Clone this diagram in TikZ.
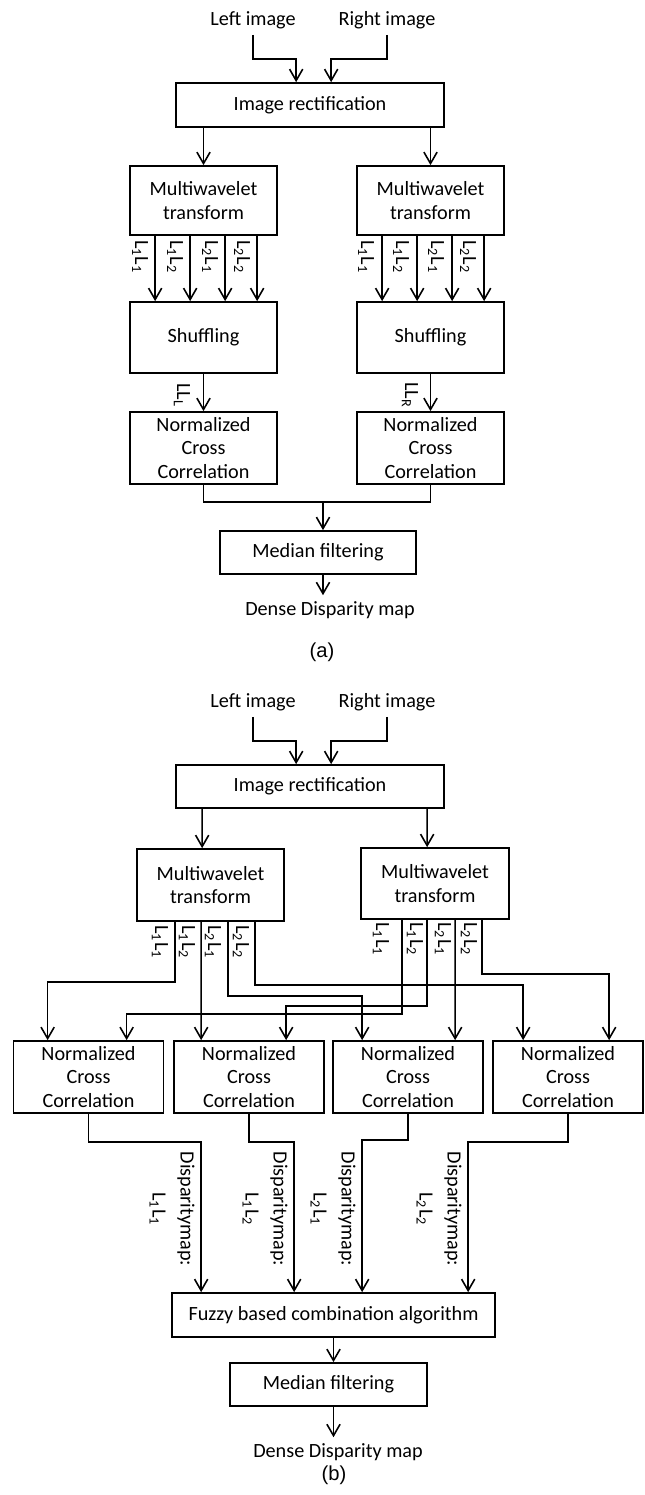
\documentclass[tikz,border=0pt]{standalone}
\usepackage{fontspec}
\setmainfont{Carlito}
\newfontfamily\capfont{Liberation Sans}
\usetikzlibrary{arrows.meta,positioning,calc}

\begin{document}
\begin{tikzpicture}[
    x=0.02cm, y=-0.02cm,
    every node/.style={font=\fontsize{11.5}{13.4}\selectfont},
    box/.style={draw, rectangle, line width=1pt, align=center, inner sep=0pt, minimum width=2.94cm, minimum height=1.42cm},
    arr/.style={-{Straight Barb[length=6.5pt,width=7.5pt]}, line width=0.9pt},
    wire/.style={line width=0.9pt},
    lbl/.style={rotate=-90, inner sep=0pt},
    dlbl/.style={rotate=-90, align=center, inner sep=0pt},
    captxt/.style={font=\capfont\fontsize{11.5}{14}\selectfont}
]
\useasboundingbox (0,0) rectangle (645,1495);

% ---------------- (a) ----------------
% Inputs
\node (leftA) at (253,20) {Left image};
\node (rightA) at (387,20) {Right image};
\node[box, minimum width=5.36cm, minimum height=0.88cm] (rectA) at (310,105) {Image rectification};
\draw[arr] (leftA.south) |- ($(rectA.north west)+(121,-23)$) -- ($(rectA.north west)+(121,0)$);
\draw[arr] (rightA.south) |- ($(rectA.north west)+(156,-23)$) -- ($(rectA.north west)+(156,0)$);

% Multiwavelet transform
\node[box, minimum height=1.38cm] (mwLA) at (203.5,200.5) {Multiwavelet\\transform};
\node[box, minimum height=1.38cm] (mwRA) at (430.5,200.5) {Multiwavelet\\transform};
\draw[arr] (mwLA.north |- rectA.south) -- (mwLA.north);
\draw[arr] (mwRA.north |- rectA.south) -- (mwRA.north);

% Shuffling
\node[box] (shLA) at (203.5,337.5) {Shuffling};
\node[box] (shRA) at (430.5,337.5) {Shuffling};
\foreach \dx/\txt in {26/L\textsubscript{1}L\textsubscript{1}, 61/L\textsubscript{1}L\textsubscript{2}, 96/L\textsubscript{2}L\textsubscript{1}, 128/L\textsubscript{2}L\textsubscript{2}}{
  \draw[arr] ($(mwLA.south west)+(\dx,0)$) -- ($(shLA.north west)+(\dx,0)$);
  \node[lbl] (lblLA\dx) at ($(mwLA.south west)+(\dx-15,21)$) {\txt};
  \draw[arr] ($(mwRA.south west)+(\dx,0)$) -- ($(shRA.north west)+(\dx,0)$);
  \node[lbl] (lblRA\dx) at ($(mwRA.south west)+(\dx-16,21)$) {\txt};
}

% Normalized cross correlation
\node[box, minimum height=1.44cm] (nccLA) at (203.5,448) {Normalized\\Cross\\Correlation};
\node[box, minimum height=1.44cm] (nccRA) at (430.5,448) {Normalized\\Cross\\Correlation};
\draw[arr] (shLA.south) -- (nccLA.north);
\draw[arr] (shRA.south) -- (nccRA.north);
\node[lbl] (llL) at (182,395) {LL\textsubscript{L}};
\node[lbl] (llR) at (410,395) {LL\textsubscript{R}};

% Median filtering
\coordinate (joinA) at (323,502);
\node[box, minimum width=3.92cm, minimum height=0.86cm] (medA) at (318,552.5) {Median filtering};
\draw[wire] (nccLA.south) |- (joinA) -| (nccRA.south);
\draw[arr] (joinA) -- (joinA |- medA.north);
\node (denseA) at (330,610) {Dense Disparity map};
\draw[arr] (medA.south -| joinA) -- (joinA |- denseA.north);
\node[captxt] (capA) at (322,652) {(a)};

% ---------------- (b) ----------------
% Inputs
\node (leftB) at (253,702) {Left image};
\node (rightB) at (387,702) {Right image};
\node[box, minimum width=5.36cm, minimum height=0.86cm] (rectB) at (310,786.5) {Image rectification};
\draw[arr] (leftB.south) |- ($(rectB.north west)+(121,-23)$) -- ($(rectB.north west)+(121,0)$);
\draw[arr] (rightB.south) |- ($(rectB.north west)+(156,-23)$) -- ($(rectB.north west)+(156,0)$);

% Multiwavelet transform
\node[box, minimum height=1.44cm] (mwLB) at (210.5,885) {Multiwavelet\\transform};
\node[box, minimum width=2.96cm] (mwRB) at (435,883.5) {Multiwavelet\\transform};
\draw[arr] ($(rectB.south west)+(27,0)$) -- ($(mwLB.north west)+(66,0)$);
\draw[arr] ($(rectB.south west)+(252,0)$) -- ($(mwRB.north west)+(67,0)$);

% Four correlation blocks
\foreach \n/\cx in {1/88.5, 2/249, 3/408, 4/568}
  \node[box, minimum width=3cm, minimum height=1.44cm] (ncc\n) at (\cx,1077) {Normalized\\Cross\\Correlation};

% Sub-band routing
\draw[arr] ($(mwLB.south west)+(39,0)$) -- ++(0,60) -| ($(ncc1.north west)+(35,0)$);
\draw[arr] ($(mwLB.south west)+(65,0)$) -- ($(ncc2.north west)+(28,0)$);
\draw[arr] ($(mwLB.south west)+(92,0)$) -- ++(0,74) -| ($(ncc3.north west)+(30,0)$);
\draw[arr] ($(mwLB.south west)+(119,0)$) -- ++(0,63) -| ($(ncc4.north west)+(31,0)$);
\draw[arr] ($(mwRB.south west)+(42,0)$) -- ++(0,94) -| ($(ncc1.north west)+(114,0)$);
\draw[arr] ($(mwRB.south west)+(67,0)$) -- ++(0,86) -| ($(ncc2.north west)+(113,0)$);
\draw[arr] ($(mwRB.south west)+(95,0)$) -- ($(ncc3.north west)+(123,0)$);
\draw[arr] ($(mwRB.south west)+(122,0)$) -- ++(0,54) -| ($(ncc4.north west)+(117,0)$);

\node[lbl] (lblLB1) at (160,942) {L\textsubscript{1}L\textsubscript{1}};
\node[lbl] (lblLB2) at (187,942) {L\textsubscript{1}L\textsubscript{2}};
\node[lbl] (lblLB3) at (213,942) {L\textsubscript{2}L\textsubscript{1}};
\node[lbl] (lblLB4) at (241,942) {L\textsubscript{2}L\textsubscript{2}};
\node[lbl] (lblRB1) at (381,939) {L\textsubscript{1}L\textsubscript{1}};
\node[lbl] (lblRB2) at (415,939) {L\textsubscript{1}L\textsubscript{2}};
\node[lbl] (lblRB3) at (443,939) {L\textsubscript{2}L\textsubscript{1}};
\node[lbl] (lblRB4) at (469,939) {L\textsubscript{2}L\textsubscript{2}};

% Fuzzy combination
\node[box, minimum width=6.46cm, minimum height=0.88cm] (fuzzy) at (333.5,1315) {Fuzzy based combination algorithm};
\draw[arr] (ncc1.south) -- ++(0,28) -| ($(fuzzy.north west)+(30,0)$);
\draw[arr] (ncc2.south) -- ++(0,28) -| ($(fuzzy.north west)+(123,0)$);
\draw[arr] (ncc3.south) -- ++(0,26) -| ($(fuzzy.north west)+(191,0)$);
\draw[arr] (ncc4.south) -- ++(0,28) -| ($(fuzzy.north west)+(297,0)$);
\node[dlbl] (dmap1) at (172,1209) {Disparitymap:\\[2.5pt]L\textsubscript{1}L\textsubscript{1}};
\node[dlbl] (dmap2) at (265,1209) {Disparitymap:\\[2.5pt]L\textsubscript{1}L\textsubscript{2}};
\node[dlbl] (dmap3) at (333,1209) {Disparitymap:\\[2.5pt]L\textsubscript{2}L\textsubscript{1}};
\node[dlbl] (dmap4) at (439,1209) {Disparitymap:\\[2.5pt]L\textsubscript{2}L\textsubscript{2}};

% Median filtering
\node[box, minimum width=3.94cm, minimum height=0.86cm] (medB) at (328.5,1384.5) {Median filtering};
\draw[arr] (fuzzy.south) -- (fuzzy.south |- medB.north);
\node (denseB) at (338,1452) {Dense Disparity map};
\draw[arr] (medB.south -| fuzzy.south) -- (fuzzy.south |- denseB.north);
\node[captxt] (capB) at (334,1475) {(b)};

\end{tikzpicture}
\end{document}
